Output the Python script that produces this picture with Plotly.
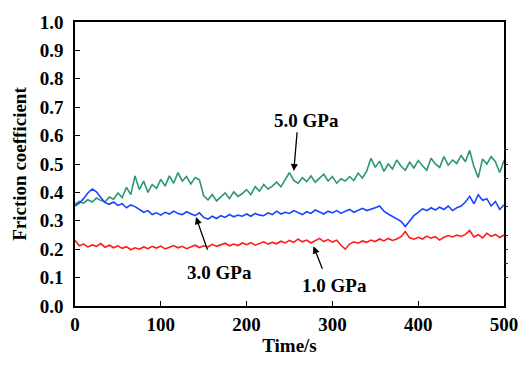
import plotly.graph_objects as go

# Friction coefficient sampled every 5 s (t = 0 ... 500 s)
red_1GPa = [
    0.232, 0.212, 0.218, 0.208, 0.215, 0.210, 0.220, 0.207, 0.214, 0.205,
    0.212, 0.203, 0.209, 0.198, 0.205, 0.200, 0.208, 0.202, 0.210, 0.204,
    0.211, 0.201, 0.207, 0.213, 0.205, 0.210, 0.202, 0.208, 0.214, 0.206,
    0.212, 0.208, 0.217, 0.210, 0.215, 0.221, 0.212, 0.218, 0.213, 0.222,
    0.216, 0.223, 0.214, 0.220, 0.226, 0.218, 0.224, 0.219, 0.228, 0.222,
    0.231, 0.224, 0.236, 0.226, 0.232, 0.222, 0.230, 0.238, 0.227, 0.234,
    0.225, 0.232, 0.214, 0.200, 0.218, 0.226, 0.221, 0.229, 0.224, 0.232,
    0.227, 0.236, 0.229, 0.238, 0.231, 0.236, 0.244, 0.262, 0.240, 0.235,
    0.242, 0.236, 0.246, 0.239, 0.244, 0.232, 0.242, 0.248, 0.243, 0.250,
    0.245, 0.252, 0.266, 0.243, 0.251, 0.240, 0.256, 0.245, 0.252, 0.241,
    0.250,
]
blue_3GPa = [
    0.352, 0.362, 0.378, 0.398, 0.412, 0.402, 0.382, 0.364, 0.358, 0.366,
    0.354, 0.360, 0.346, 0.356, 0.350, 0.340, 0.330, 0.336, 0.322, 0.328,
    0.320, 0.330, 0.324, 0.334, 0.326, 0.322, 0.332, 0.325, 0.318, 0.328,
    0.312, 0.306, 0.316, 0.308, 0.318, 0.312, 0.322, 0.314, 0.320, 0.316,
    0.324, 0.316, 0.326, 0.320, 0.318, 0.328, 0.322, 0.334, 0.324, 0.330,
    0.326, 0.336, 0.328, 0.322, 0.332, 0.326, 0.338, 0.330, 0.324, 0.334,
    0.328, 0.336, 0.326, 0.334, 0.340, 0.330, 0.336, 0.344, 0.336, 0.340,
    0.346, 0.352, 0.334, 0.324, 0.316, 0.306, 0.298, 0.280, 0.300, 0.318,
    0.330, 0.342, 0.336, 0.346, 0.338, 0.348, 0.340, 0.352, 0.336, 0.346,
    0.352, 0.366, 0.386, 0.360, 0.392, 0.372, 0.378, 0.352, 0.368, 0.340,
    0.356,
]
green_5GPa = [
    0.358, 0.368, 0.362, 0.374, 0.366, 0.380, 0.372, 0.366, 0.384, 0.376,
    0.398, 0.382, 0.418, 0.392, 0.458, 0.410, 0.440, 0.400, 0.428, 0.414,
    0.446, 0.422, 0.458, 0.432, 0.470, 0.440, 0.456, 0.430, 0.452, 0.444,
    0.388, 0.374, 0.392, 0.370, 0.384, 0.398, 0.378, 0.402, 0.386, 0.396,
    0.410, 0.392, 0.420, 0.404, 0.428, 0.412, 0.422, 0.436, 0.420, 0.446,
    0.470, 0.442, 0.432, 0.452, 0.438, 0.458, 0.436, 0.450, 0.464, 0.440,
    0.456, 0.432, 0.448, 0.440, 0.456, 0.442, 0.468, 0.450, 0.476, 0.520,
    0.488, 0.510, 0.474, 0.500, 0.482, 0.514, 0.492, 0.478, 0.506, 0.486,
    0.512, 0.494, 0.478, 0.520, 0.500, 0.488, 0.526, 0.496, 0.514, 0.502,
    0.530, 0.508, 0.548, 0.490, 0.452, 0.518, 0.500, 0.526, 0.508, 0.470,
    0.512,
]
time_s = [5 * i for i in range(len(red_1GPa))]

x_ticks = [0, 100, 200, 300, 400, 500]
y_ticks = [0.0, 0.1, 0.2, 0.3, 0.4, 0.5, 0.6, 0.7, 0.8, 0.9, 1.0]
right_ticks = [0.1, 0.15, 0.2, 0.25, 0.35, 0.45, 0.5, 0.55]

labels = ["5.0 GPa", "3.0 GPa", "1.0 GPa"]
label_pos = [(270, 0.652), (168, 0.118), (303, 0.072)]
arrow_head = [(255, 0.475), (141, 0.313), (278, 0.210)]
arrow_tail = [(259, 0.617), (155, 0.193), (289, 0.126)]

FONT = "Liberation Serif"

fig = go.Figure()
fig.add_trace(go.Scatter(x=time_s, y=green_5GPa, mode="lines",
                         line=dict(color="#2a9775", width=1.6), name="5.0 GPa"))
fig.add_trace(go.Scatter(x=time_s, y=blue_3GPa, mode="lines",
                         line=dict(color="#1a44ff", width=1.6), name="3.0 GPa"))
fig.add_trace(go.Scatter(x=time_s, y=red_1GPa, mode="lines",
                         line=dict(color="#ff1a1a", width=1.6), name="1.0 GPa"))
# invisible trace so the right-hand tick axis is drawn
fig.add_trace(go.Scatter(x=[time_s[0]], y=[red_1GPa[0]], yaxis="y2", mode="markers",
                         marker=dict(opacity=0), hoverinfo="skip", showlegend=False))

for txt, (tx, ty), (hx, hy), (ax, ay) in zip(labels, label_pos, arrow_head, arrow_tail):
    fig.add_annotation(x=tx, y=ty, text="<b>" + txt + "</b>", showarrow=False,
                       font=dict(family=FONT, size=19, color="black"))
    fig.add_annotation(x=hx, y=hy, ax=ax, ay=ay, axref="x", ayref="y", text="",
                       showarrow=True, arrowhead=2, arrowsize=1.1, arrowwidth=1.3,
                       arrowcolor="black")

fig.update_layout(
    width=530, height=367,
    margin=dict(l=75, r=13, t=16, b=61),
    paper_bgcolor="white", plot_bgcolor="white",
    showlegend=False,
    font=dict(family=FONT, size=19, color="black"),
    xaxis=dict(
        range=[0, 500], tickvals=x_ticks, ticktext=["<b>%d</b>" % v for v in x_ticks],
        ticks="inside", ticklen=5, tickwidth=1.3,
        tickcolor="black", showline=True, linecolor="black", linewidth=1.5,
        mirror=True, showgrid=False, zeroline=False,
        tickfont=dict(family=FONT, size=19),
        title=dict(text="<b>Time/s</b>", font=dict(family=FONT, size=19), standoff=5),
    ),
    yaxis=dict(
        range=[0, 1.0], tickvals=y_ticks, ticktext=["<b>%.1f</b>" % v for v in y_ticks],
        ticks="inside", ticklen=5,
        tickwidth=1.3, tickcolor="black", showline=True, linecolor="black",
        linewidth=1.5, mirror=True, showgrid=False, zeroline=False,
        tickfont=dict(family=FONT, size=19),
        ticklabelstandoff=6,
        title=dict(text="<b>Friction coefficient</b>", font=dict(family=FONT, size=19), standoff=8),
    ),
    yaxis2=dict(
        range=[0, 1.0], overlaying="y", side="right", tickvals=right_ticks,
        ticks="outside", ticklen=3, tickwidth=1, tickcolor="#333333",
        showticklabels=False, showline=False, showgrid=False, zeroline=False,
    ),
)

fig.write_html("out.html")
